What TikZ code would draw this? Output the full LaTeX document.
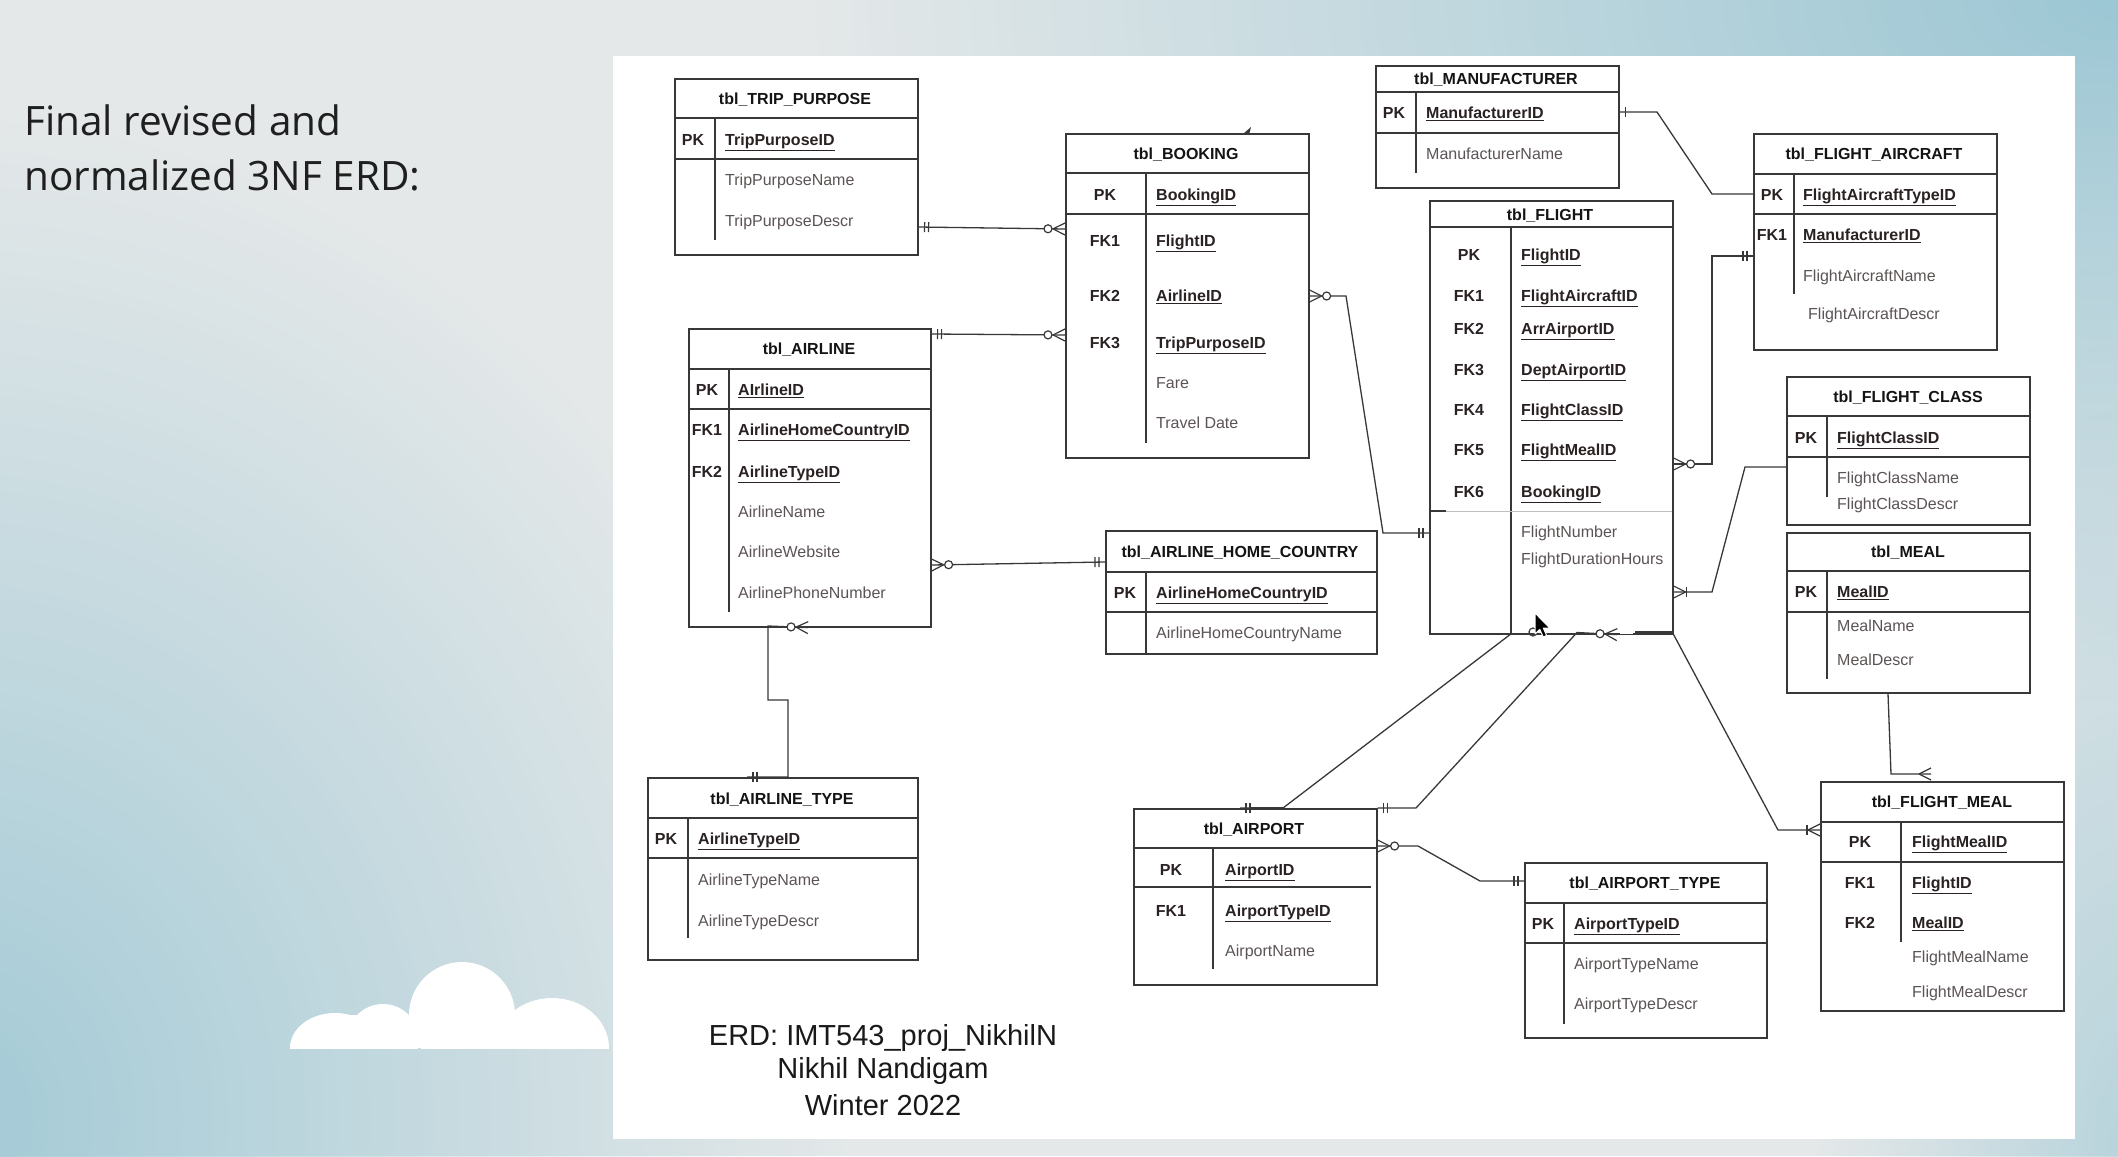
\documentclass[tikz,border=0pt]{standalone}
\usepackage{fontspec}
\setmainfont{Liberation Sans}
\newfontfamily\slidefont{Open Sans}
\usetikzlibrary{decorations.markings,fadings}

\definecolor{bgbase}{HTML}{E4E8E9}
\definecolor{bgblue}{HTML}{9CC7D4}
\definecolor{bx}{HTML}{383838}
\definecolor{lc}{HTML}{383838}
\definecolor{kc}{HTML}{2A2222}
\definecolor{ac}{HTML}{5C5454}

\tikzfading[name=softout, inner color=transparent!0, outer color=transparent!100]

\newcommand\fsz{\fontsize{16bp}{19bp}\selectfont}
\newcommand\tickbar{\draw[lc, line width=1.2bp] (0,-5) -- (0,5);}
\newcommand\zcirc{\draw[lc, line width=1.2bp, fill=white] (0,0) circle (4);}
\newcommand\crowfwd{\draw[lc, line width=1.2bp] (0,0) -- (12,6) (0,0) -- (12,-6);}
\newcommand\crowback{\draw[lc, line width=1.2bp] (0,0) -- (-12,6) (0,0) -- (-12,-6);}
\newcommand\hsep[2]{\draw[ln] (#1.west |- 0,#2) -- (#1.east |- 0,#2);}
\newcommand\vsep[3]{\draw[ln] (#1,#2) -- (#1,#3);}
\newcommand\krow[6]{\node[keyl] (#1a) at (#2,#4) {#5}; \node[kf] (#1b) at (#3,#4) {\underline{#6}};}
\newcommand\arow[4]{\node[attr] (#1) at (#2,#3) {#4};}

\begin{document}
\begin{tikzpicture}[x=1bp,y=-1bp,
  tbl/.style={draw=bx, line width=1.6bp, fill=white, inner sep=0pt, anchor=north west},
  ln/.style={draw=bx, line width=1.6bp},
  ttl/.style={font=\fsz\bfseries, text=black!92, inner sep=0pt, text height=11.5bp, text depth=0bp, anchor=center},
  keyl/.style={font=\fsz\bfseries, text=kc, inner sep=0pt, text height=11.5bp, text depth=0bp, anchor=center},
  kf/.style={font=\fsz\bfseries, text=kc, inner sep=0pt, text height=11.5bp, text depth=0bp, anchor=west},
  attr/.style={font=\fsz, text=ac, inner sep=0pt, text height=11.5bp, text depth=0bp, anchor=west},
  conn/.style={draw=lc, line width=1.3bp},
  bs/.style={postaction={decorate,decoration={markings,
     mark=at position 6bp with {\tickbar}, mark=at position 10bp with {\tickbar}}}},
  be/.style={postaction={decorate,decoration={markings,
     mark=at position -10bp with {\tickbar}, mark=at position -6bp with {\tickbar}}}},
  ss/.style={postaction={decorate,decoration={markings,
     mark=at position 6bp with {\tickbar}}}},
  zms/.style={postaction={decorate,decoration={markings,
     mark=at position 12bp with {\crowback}, mark=at position 17bp with {\zcirc}}}},
  zme/.style={postaction={decorate,decoration={markings,
     mark=at position -17bp with {\zcirc}, mark=at position -12bp with {\crowfwd}}}},
  ome/.style={postaction={decorate,decoration={markings,
     mark=at position -13bp with {\tickbar}, mark=at position -12bp with {\crowfwd}}}},
  mne/.style={postaction={decorate,decoration={markings,
     mark=at position -12bp with {\crowfwd}}}}
]
\useasboundingbox (0,0) rectangle (2118,1156);

% ---------- slide background ----------
\fill[bgbase] (0,0) rectangle (2118,1156);
\fill[bgblue, path fading=softout] (2118,0) ellipse (1300 and 700);
\fill[bgblue, path fading=softout, opacity=0.9] (-50,1120) ellipse (900 and 1000);
\fill[bgblue, path fading=softout, opacity=0.6] (2118,1156) ellipse (300 and 900);
\begin{scope}
  \clip (0,0) rectangle (2118,1048);
  \fill[white] (335,1048) ellipse (45 and 35);
  \fill[white] (383,1040) circle (36);
  \fill[white] (462,1015) circle (53);
  \fill[white] (552,1048) ellipse (57 and 50);
  \fill[white] (330,1015) rectangle (590,1048);
\end{scope}
\node[anchor=base west, inner sep=0pt, font=\slidefont\fontsize{40.5bp}{48bp}\selectfont, text=black!88] (slide1) at (24,135) {Final revised and};
\node[anchor=base west, inner sep=0pt, font=\slidefont\fontsize{40.5bp}{48bp}\selectfont, text=black!88] (slide2) at (24,190) {normalized 3NF ERD:};

% ---------- white panel ----------
\fill[white] (613,56) rectangle (2075,1139);

% ---------- tables ----------
\node[tbl, minimum width=243bp, minimum height=176bp] (trip) at (674,78) {};
\hsep{trip}{118} \hsep{trip}{159} \vsep{715}{118}{240}
\node[ttl] (tripT) at (795,99) {tbl\_TRIP\_PURPOSE};
\krow{tp1}{693}{725}{140}{PK}{TripPurposeID}
\arow{tp2}{725}{180}{TripPurposeName}
\arow{tp3}{725}{221}{TripPurposeDescr}

\node[tbl, minimum width=243bp, minimum height=324bp] (booking) at (1065,133) {};
\hsep{booking}{173} \hsep{booking}{214} \vsep{1146}{173}{443}
\node[ttl] (bookingT) at (1186,154) {tbl\_BOOKING};
\krow{bk1}{1105}{1156}{195}{PK}{BookingID}
\krow{bk2}{1105}{1156}{241}{FK1}{FlightID}
\krow{bk3}{1105}{1156}{296}{FK2}{AirlineID}
\krow{bk4}{1105}{1156}{343}{FK3}{TripPurposeID}
\arow{bk5}{1156}{383}{Fare}
\arow{bk6}{1156}{423}{Travel Date}
\fill[bx] (1243,134) -- (1251,127) -- (1249,135) -- cycle;

\node[tbl, minimum width=242bp, minimum height=298bp] (airline) at (688,328) {};
\hsep{airline}{369} \hsep{airline}{409} \vsep{729}{369}{612}
\node[ttl] (airlineT) at (809,349) {tbl\_AIRLINE};
\krow{al1}{707}{738}{390}{PK}{AIrlineID}
\krow{al2}{707}{738}{430}{FK1}{AirlineHomeCountryID}
\krow{al3}{707}{738}{472}{FK2}{AirlineTypeID}
\arow{al4}{738}{512}{AirlineName}
\arow{al5}{738}{552}{AirlineWebsite}
\arow{al6}{738}{593}{AirlinePhoneNumber}

\node[tbl, minimum width=271bp, minimum height=123bp] (home) at (1105,530) {};
\hsep{home}{572} \hsep{home}{612} \vsep{1146}{572}{653}
\node[ttl] (homeT) at (1240,552) {tbl\_AIRLINE\_HOME\_COUNTRY};
\krow{hc1}{1125}{1156}{593}{PK}{AirlineHomeCountryID}
\arow{hc2}{1156}{633}{AirlineHomeCountryName}

\node[tbl, minimum width=270bp, minimum height=182bp] (atype) at (647,777) {};
\hsep{atype}{818} \hsep{atype}{858} \vsep{688}{818}{938}
\node[ttl] (atypeT) at (782,799) {tbl\_AIRLINE\_TYPE};
\krow{at1}{666}{698}{839}{PK}{AirlineTypeID}
\arow{at2}{698}{880}{AirlineTypeName}
\arow{at3}{698}{921}{AirlineTypeDescr}

\node[tbl, minimum width=243bp, minimum height=122bp] (manuf) at (1375,65) {};
\hsep{manuf}{92} \hsep{manuf}{133} \vsep{1416}{92}{173}
\node[ttl] (manufT) at (1496,79) {tbl\_MANUFACTURER};
\krow{mf1}{1394}{1426}{113}{PK}{ManufacturerID}
\arow{mf2}{1426}{154}{ManufacturerName}

\node[tbl, minimum width=243bp, minimum height=433bp] (flight) at (1429,200) {};
\hsep{flight}{227} \vsep{1511}{227}{633}
\draw[line width=0.8bp, black!25] (1429,511) -- (1672,511);
\draw[ln] (1429,511) -- (1446,511);
\node[ttl] (flightT) at (1550,215) {tbl\_FLIGHT};
\krow{fl1}{1469}{1521}{255}{PK}{FlightID}
\krow{fl2}{1469}{1521}{296}{FK1}{FlightAircraftID}
\krow{fl3}{1469}{1521}{329}{FK2}{ArrAirportID}
\krow{fl4}{1469}{1521}{370}{FK3}{DeptAirportID}
\krow{fl5}{1469}{1521}{410}{FK4}{FlightClassID}
\krow{fl6}{1469}{1521}{450}{FK5}{FlightMealID}
\krow{fl7}{1469}{1521}{492}{FK6}{BookingID}
\arow{fl8}{1521}{532}{FlightNumber}
\arow{fl9}{1521}{559}{FlightDurationHours}

\node[tbl, minimum width=243bp, minimum height=216bp] (aircraft) at (1753,133) {};
\hsep{aircraft}{174} \hsep{aircraft}{214} \vsep{1794}{174}{294}
\node[ttl] (aircraftT) at (1874,154) {tbl\_FLIGHT\_AIRCRAFT};
\krow{fa1}{1772}{1803}{195}{PK}{FlightAircraftTypeID}
\krow{fa2}{1772}{1803}{235}{FK1}{ManufacturerID}
\arow{fa3}{1803}{276}{FlightAircraftName}
\arow{fa4}{1808}{314}{FlightAircraftDescr}

\node[tbl, minimum width=243bp, minimum height=148bp] (fclass) at (1786,376) {};
\hsep{fclass}{416} \hsep{fclass}{457} \vsep{1827}{416}{497}
\node[ttl] (fclassT) at (1908,397) {tbl\_FLIGHT\_CLASS};
\krow{fc1}{1806}{1837}{438}{PK}{FlightClassID}
\arow{fc2}{1837}{478}{FlightClassName}
\arow{fc3}{1837}{504}{FlightClassDescr}

\node[tbl, minimum width=243bp, minimum height=160bp] (meal) at (1786,532) {};
\hsep{meal}{571} \hsep{meal}{612} \vsep{1827}{571}{679}
\node[ttl] (mealT) at (1908,552) {tbl\_MEAL};
\krow{ml1}{1806}{1837}{592}{PK}{MealID}
\arow{ml2}{1837}{626}{MealName}
\arow{ml3}{1837}{660}{MealDescr}

\node[tbl, minimum width=243bp, minimum height=229bp] (fmeal) at (1820,781) {};
\hsep{fmeal}{822} \hsep{fmeal}{862} \vsep{1901}{822}{942}
\node[ttl] (fmealT) at (1942,802) {tbl\_FLIGHT\_MEAL};
\krow{fm1}{1860}{1912}{842}{PK}{FlightMealID}
\krow{fm2}{1860}{1912}{883}{FK1}{FlightID}
\krow{fm3}{1860}{1912}{923}{FK2}{MealID}
\arow{fm4}{1912}{957}{FlightMealName}
\arow{fm5}{1912}{992}{FlightMealDescr}

\node[tbl, minimum width=243bp, minimum height=176bp] (airport) at (1133,808) {};
\hsep{airport}{848} \draw[ln] (1133,887) -- (1371,887); \vsep{1213}{848}{969}
\node[ttl] (airportT) at (1254,829) {tbl\_AIRPORT};
\krow{ap1}{1171}{1225}{870}{PK}{AirportID}
\krow{ap2}{1171}{1225}{911}{FK1}{AirportTypeID}
\arow{ap3}{1225}{951}{AirportName}

\node[tbl, minimum width=242bp, minimum height=175bp] (aptype) at (1524,862) {};
\hsep{aptype}{903} \hsep{aptype}{943} \vsep{1564}{903}{1024}
\node[ttl] (aptypeT) at (1645,883) {tbl\_AIRPORT\_TYPE};
\krow{pt1}{1543}{1574}{924}{PK}{AirportTypeID}
\arow{pt2}{1574}{964}{AirportTypeName}
\arow{pt3}{1574}{1004}{AirportTypeDescr}

% ---------- connectors ----------
\draw[conn,bs,zme] (trip.east |- 0,227) -- (booking.west |- 0,229);
\draw[conn,bs,zme] (airline.east |- 0,334) -- (booking.west |- 0,335);
\draw[conn,zms,be] (booking.east |- 0,296) -- (1346,296) -- (1383,533) -- (flight.west |- 0,533);
\draw[conn,zms,be] (airline.east |- 0,565) -- (home.west |- 0,562);
\draw[conn,zms,be] (airline.south -| 808,0) -- (768,626) -- (768,700) -- (788,700) -- (788,777) -- (atype.north -| 747,0);
\draw[conn,ss] (manuf.east |- 0,112) -- (1657,112) -- (1712,194) -- (aircraft.west |- 0,194);
\draw[conn,zms,be] (flight.east |- 0,464) -- (1712,464) -- (1712,256) -- (aircraft.west |- 0,256);
\draw[conn,ome] (fclass.west |- 0,467) -- (1745,467) -- (1712,592) -- (flight.east |- 0,592);
\draw[conn,mne] (meal.south -| 1888,0) -- (1891,774) -- (1931,774);
\draw[conn,ome] (flight.south east) -- (1778,830) -- (fmeal.west |- 0,830);
\draw[conn,be] (flight.south -| 1510,0) -- (1283,808) -- (airport.north -| 1240,0);
\draw[lc, line width=3bp] (1250,808) -- (1283,808);
\draw[conn,zms,be] (flight.south -| 1617,0) -- (1577,632.5) -- (1416,808) -- (airport.north east);
\draw[conn,zms,be] (airport.east |- 0,846) -- (1418,846) -- (1480,881) -- (aptype.west |- 0,881);
\draw[white, line width=3bp] (1619.5,632.5) -- (1633,632.5);
\draw[lc, line width=3bp] (1635,632.5) -- (1672,632.5);

% ---------- footer ----------
\node[anchor=base, inner sep=0pt, font=\fontsize{29bp}{32bp}\selectfont, text=black!90] (ft1) at (883,1045) {ERD: IMT543\_proj\_NikhilN};
\node[anchor=base, inner sep=0pt, font=\fontsize{29bp}{32bp}\selectfont, text=black!90] (ft2) at (883,1078) {Nikhil Nandigam};
\node[anchor=base, inner sep=0pt, font=\fontsize{29bp}{32bp}\selectfont, text=black!90] (ft3) at (883,1115) {Winter 2022};

% ---------- mouse cursor ----------
\draw[lc, line width=1.2bp] (1533,632) circle (4);
\draw[white, fill=black, line width=1bp, line join=round] (1535,613) -- ++(0,21) -- ++(4.8,-4.6) -- ++(3.4,7.6) -- ++(3.4,-1.5) -- ++(-3.3,-7.4) -- ++(6.6,0) -- cycle;
\end{tikzpicture}
\end{document}
